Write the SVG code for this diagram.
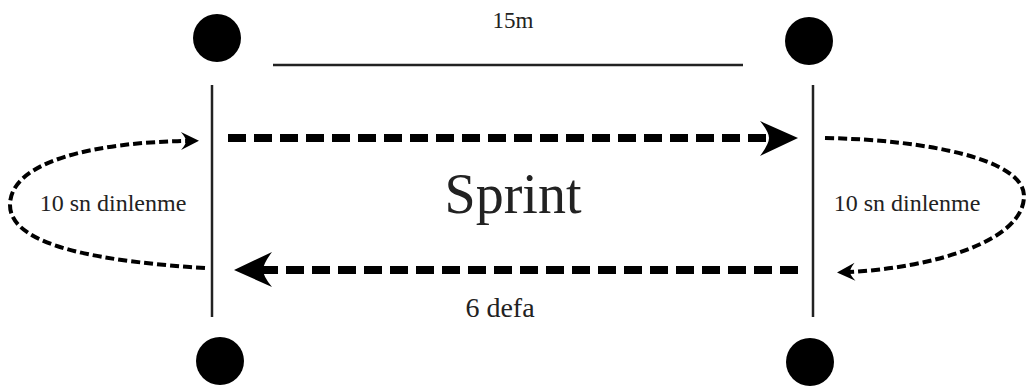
<svg xmlns="http://www.w3.org/2000/svg" width="1027" height="387" viewBox="0 0 1027 387">
<style>
.dot{fill:#000}
.post{stroke:#222;stroke-width:2.5;fill:none}
.run{stroke:#000;stroke-width:8;stroke-dasharray:18 8;fill:none}
.rest{stroke:#000;stroke-width:4;stroke-dasharray:9 4;fill:none}
.txt{fill:#222;text-anchor:middle}
</style>
<defs>
<marker id="big" markerUnits="userSpaceOnUse" viewBox="-40 -20 42 40" markerWidth="42" markerHeight="40" refX="-28" refY="0" orient="auto">
<path d="M0,0 L-38,-17 Q-29,-6 -29,0 Q-29,6 -38,18 Z" fill="#000"/>
</marker>
<marker id="small" markerUnits="userSpaceOnUse" viewBox="-20 -10 22 20" markerWidth="22" markerHeight="20" refX="-12" refY="0" orient="auto">
<path d="M0,0 L-18,-9 Q-13,-3 -13,0 Q-13,3 -18,9 Z" fill="#000"/>
</marker>
</defs>
<rect width="1027" height="387" fill="#fff"/>
<g id="cone-tl"><circle class="dot" cx="217" cy="38" r="24"/></g>
<g id="cone-tr"><circle class="dot" cx="809" cy="41" r="24"/></g>
<g id="cone-bl"><circle class="dot" cx="220" cy="361" r="24"/></g>
<g id="cone-br"><circle class="dot" cx="810" cy="362" r="24"/></g>
<g id="line-left"><line class="post" x1="212" y1="85" x2="212" y2="317"/></g>
<g id="line-right"><line class="post" x1="813" y1="85" x2="813" y2="317"/></g>
<g font-family="'Liberation Serif', 'Times New Roman', 'DejaVu Serif', serif">
<g id="distance">
<line class="post" x1="273" y1="65" x2="743" y2="65"/>
<text class="txt" x="513" y="28" font-size="23">15m</text>
</g>
<g id="labels">
<text class="txt" x="513" y="213" font-size="56">Sprint</text>
<text class="txt" x="500" y="317" font-size="28">6 defa</text>
<text class="txt" x="113" y="211" font-size="24">10 sn dinlenme</text>
<text class="txt" x="907" y="211" font-size="24">10 sn dinlenme</text>
</g>
</g>
<g id="connectors">
<path class="run" d="M228,138 L770,138" marker-end="url(#big)"/>
<path class="run" d="M798,270 L262,270" marker-end="url(#big)"/>
<path class="rest" d="M205,268 C110,262 10,248 10,205 C10,160 100,142 187,141" marker-end="url(#small)"/>
<path class="rest" d="M825,138 C930,140 1024,160 1024,196 C1024,242 930,268 849,272" marker-end="url(#small)"/>
</g>
</svg>
